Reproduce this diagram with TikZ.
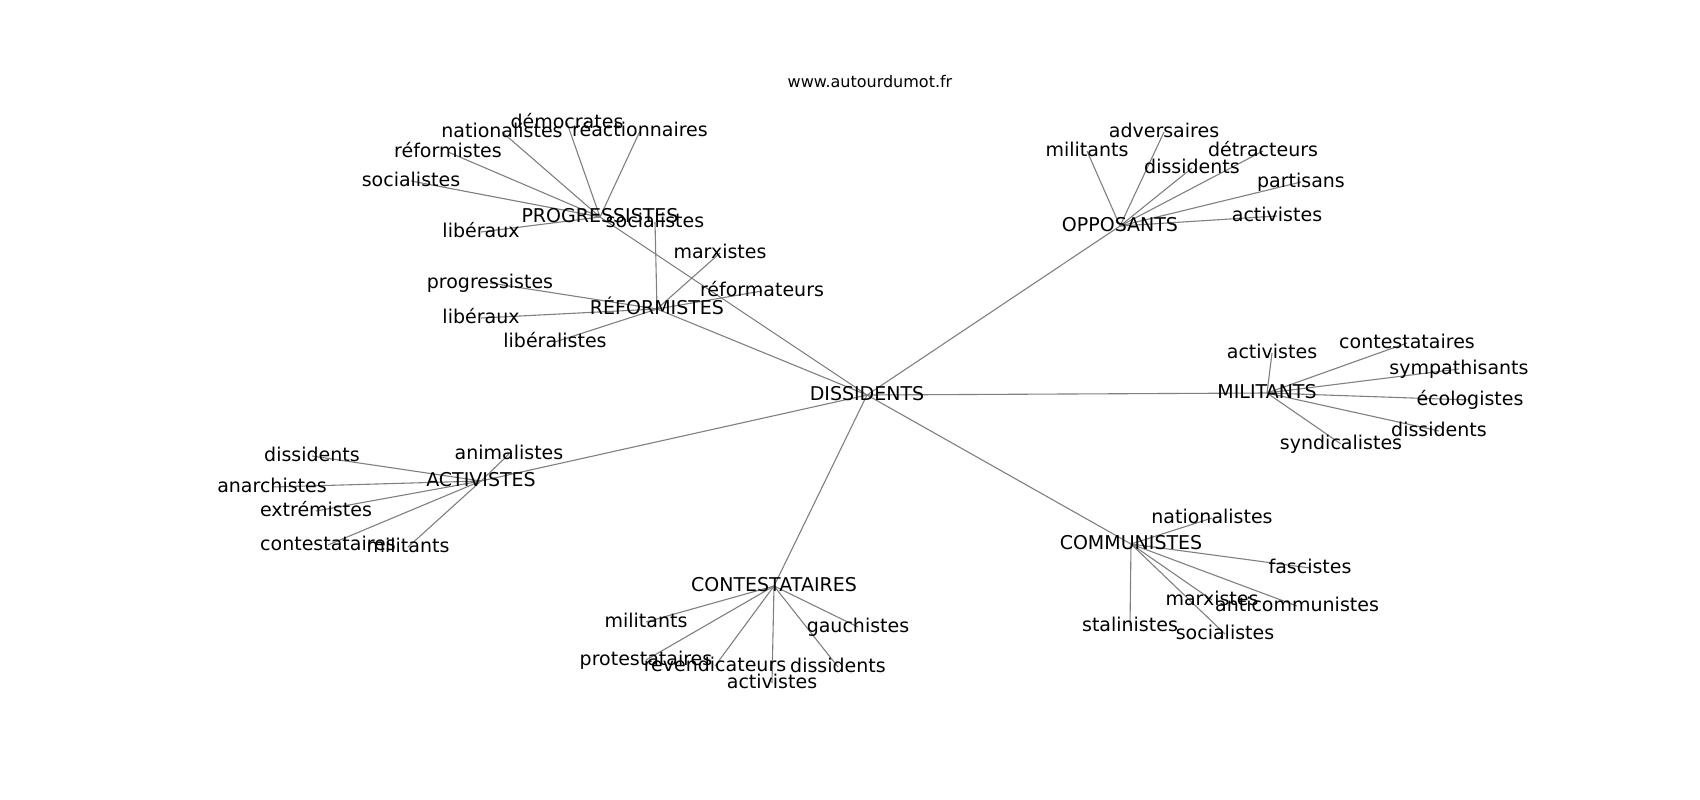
\documentclass[tikz,border=0pt]{standalone}
\usepackage{fontspec}
\setmainfont{DejaVu Sans}
\usetikzlibrary{backgrounds}
\tikzset{
  lab/.style={inner sep=0pt, text height=1.06em, text depth=0pt, font=\fontsize{19}{23}\selectfont},
  ttl/.style={inner sep=0pt, text height=1.0em, text depth=0pt, font=\fontsize{16}{19}\selectfont},
  edge/.style={draw=gray, line width=1.1pt}
}
\begin{document}
\begin{tikzpicture}[x=1pt,y=-1pt]
\useasboundingbox (0,0) rectangle (1700,800);
\node[ttl] (title) at (870,83) {www.autourdumot.fr};
% hubs
\node[lab] (dis) at (867,395) {DISSIDENTS};
\node[lab] (pro) at (600,217) {PROGRESSISTES};
\node[lab] (ref) at (657,309) {RÉFORMISTES};
\node[lab] (opp) at (1120,226) {OPPOSANTS};
\node[lab] (mil) at (1267,393) {MILITANTS};
\node[lab] (act) at (481,481) {ACTIVISTES};
\node[lab] (con) at (774,586) {CONTESTATAIRES};
\node[lab] (com) at (1131,544) {COMMUNISTES};
% PROGRESSISTES
\node[lab] (p1) at (567,123) {démocrates};
\node[lab] (p2) at (502,132) {nationalistes};
\node[lab] (p3) at (640,131) {réactionnaires};
\node[lab] (p4) at (448,152) {réformistes};
\node[lab] (p5) at (411,181) {socialistes};
\node[lab] (p6) at (481,232) {libéraux};
% REFORMISTES
\node[lab] (r1) at (655,222) {socialistes};
\node[lab] (r2) at (720,253) {marxistes};
\node[lab] (r3) at (762,291) {réformateurs};
\node[lab] (r4) at (490,283) {progressistes};
\node[lab] (r5) at (481,318) {libéraux};
\node[lab] (r6) at (555,342) {libéralistes};
% OPPOSANTS
\node[lab] (o1) at (1087,151) {militants};
\node[lab] (o2) at (1164,132) {adversaires};
\node[lab] (o3) at (1263,151) {détracteurs};
\node[lab] (o4) at (1192,168) {dissidents};
\node[lab] (o5) at (1301,182) {partisans};
\node[lab] (o6) at (1277,216) {activistes};
% MILITANTS
\node[lab] (m1) at (1272,353) {activistes};
\node[lab] (m2) at (1407,343) {contestataires};
\node[lab] (m3) at (1459,369) {sympathisants};
\node[lab] (m4) at (1470,400) {écologistes};
\node[lab] (m5) at (1439,431) {dissidents};
\node[lab] (m6) at (1341,444) {syndicalistes};
% ACTIVISTES
\node[lab] (a1) at (312,456) {dissidents};
\node[lab] (a2) at (509,454) {animalistes};
\node[lab] (a3) at (272,487) {anarchistes};
\node[lab] (a4) at (316,511) {extrémistes};
\node[lab] (a5) at (328,545) {contestataires};
\node[lab] (a6) at (408,547) {militants};
% CONTESTATAIRES
\node[lab] (c1) at (646,622) {militants};
\node[lab] (c2) at (858,627) {gauchistes};
\node[lab] (c3) at (646,660) {protestataires};
\node[lab] (c4) at (715,666) {revendicateurs};
\node[lab] (c5) at (838,667) {dissidents};
\node[lab] (c6) at (772,683) {activistes};
% COMMUNISTES
\node[lab] (k1) at (1212,518) {nationalistes};
\node[lab] (k2) at (1310,568) {fascistes};
\node[lab] (k3) at (1212,600) {marxistes};
\node[lab] (k4) at (1297,606) {anticommunistes};
\node[lab] (k5) at (1130,626) {stalinistes};
\node[lab] (k6) at (1225,634) {socialistes};
\begin{pgfonlayer}{background}
\fill[white] (0,0) rectangle (1700,800);
\foreach \a/\b in {dis/pro,dis/ref,dis/opp,dis/mil,dis/act,dis/con,dis/com,
  pro/p1,pro/p2,pro/p3,pro/p4,pro/p5,pro/p6,
  ref/r1,ref/r2,ref/r3,ref/r4,ref/r5,ref/r6,
  opp/o1,opp/o2,opp/o3,opp/o4,opp/o5,opp/o6,
  mil/m1,mil/m2,mil/m3,mil/m4,mil/m5,mil/m6,
  act/a1,act/a2,act/a3,act/a4,act/a5,act/a6,
  con/c1,con/c2,con/c3,con/c4,con/c5,con/c6,
  com/k1,com/k2,com/k3,com/k4,com/k5,com/k6}
  \draw[edge] (\a.center) -- (\b.center);
\end{pgfonlayer}
\end{tikzpicture}
\end{document}
